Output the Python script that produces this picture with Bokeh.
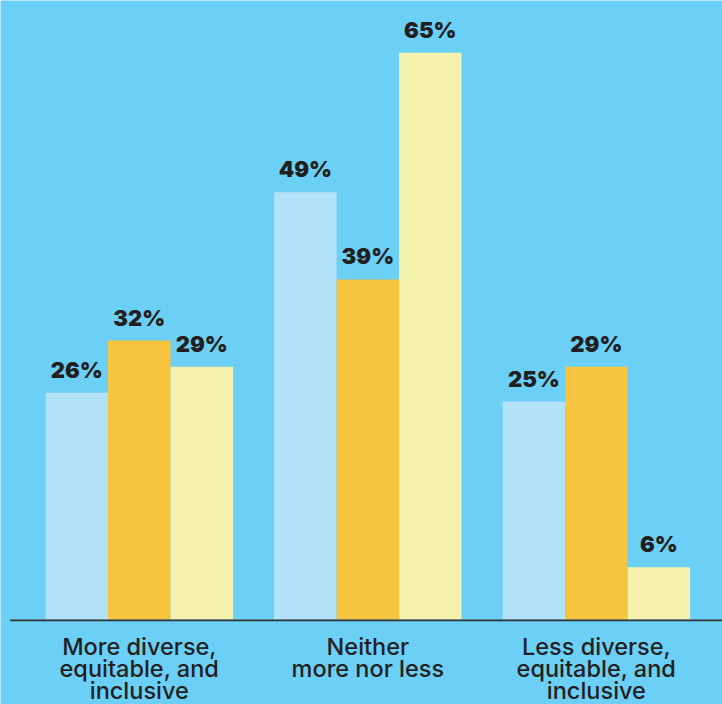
from bokeh.plotting import figure
from bokeh.models import ColumnDataSource, Range1d
from bokeh.core.properties import value
from bokeh.embed import file_html
from bokeh.resources import INLINE

# ---- data ----
categories = ["More diverse,\nequitable, and\ninclusive",
              "Neither\nmore nor less",
              "Less diverse,\nequitable, and\ninclusive"]
series_a = [26, 49, 25]
series_b = [32, 39, 29]
series_c = [29, 65, 6]

# ---- styles ----
BG = "#6BCFF6"
COLORS = ["#B1E2F8", "#F7C43F", "#F5F2AE"]
INK = "#231F20"
BAR_W = 0.2735

p = figure(width=722, height=704, output_backend="svg", toolbar_location=None,
           x_range=Range1d(-0.6074, 2.552), y_range=Range1d(-9.75, 71.0),
           min_border=0, min_border_left=0, min_border_right=0,
           min_border_top=0, min_border_bottom=0)
p.background_fill_color = BG
p.border_fill_color = BG
p.outline_line_color = None
p.xaxis.visible = False
p.yaxis.visible = False
p.xgrid.visible = False
p.ygrid.visible = False

idx = list(range(len(categories)))
for k, (vals, col) in enumerate(zip([series_a, series_b, series_c], COLORS)):
    off = (k - 1) * BAR_W
    src = ColumnDataSource(dict(x=[i + off for i in idx], top=vals,
                                lab=[f"{v}%" for v in vals]))
    p.vbar(x="x", top="top", bottom=0, width=BAR_W, source=src,
           fill_color=col, line_color=None)
    p.text(x="x", y="top", text="lab", source=src, y_offset=-23,
           text_align="center", text_baseline="alphabetic",
           text_font=value("Inter Black, Inter"), text_font_style="bold",
           text_font_size="22px", text_color=INK)

# baseline
p.segment(x0=[-0.565], x1=[2.552], y0=[-0.1], y1=[-0.1],
          line_color="#333333", line_width=1.6)

# category labels
csrc = ColumnDataSource(dict(x=idx, y=[0] * len(idx), t=categories))
p.text(x="x", y="y", text="t", source=csrc, y_offset=13,
       text_align="center", text_baseline="top",
       text_font=value("Inter Medium, Inter"), text_font_style="bold",
       text_font_size="23.5px", text_line_height=0.75, text_color=INK)

open("out.html", "w").write(file_html(p, INLINE))
